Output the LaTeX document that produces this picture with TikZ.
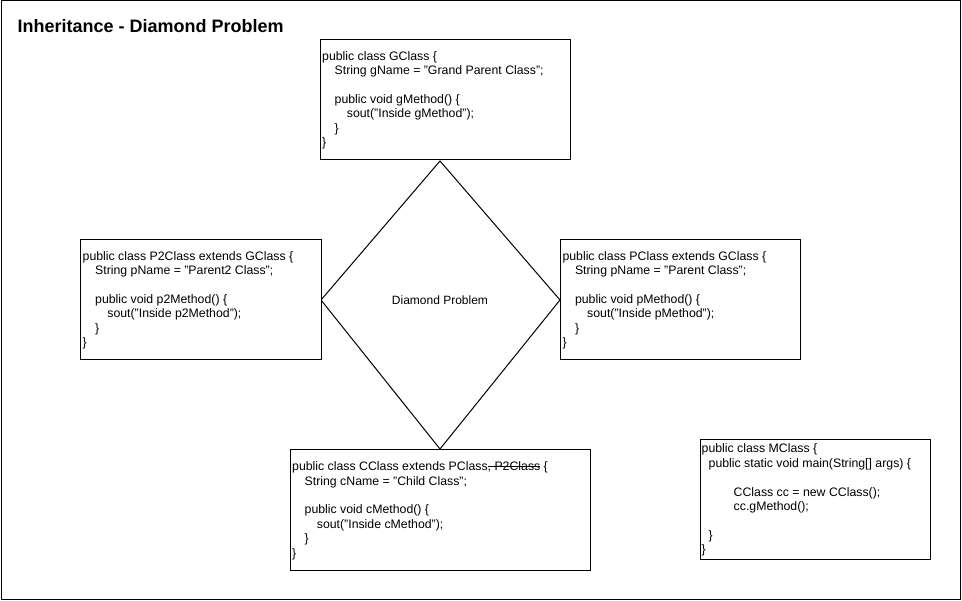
\documentclass[tikz,border=0pt]{standalone}
\usepackage{fontspec}
\setmainfont{Liberation Sans}
\newcommand{\ia}{\hspace*{12.5pt}}
\newcommand{\ib}{\hspace*{24.7pt}}
\newcommand{\strk}[1]{\setbox0\hbox{#1}\rlap{\rule[3.4pt]{\wd0}{0.8pt}}\box0}
\begin{document}
\begin{tikzpicture}[x=1pt,y=-1pt,
  classbox/.style={draw=black, line width=1pt, fill=white, inner sep=0pt},
  codetext/.style={anchor=north west, inner sep=0pt, align=left,
    font=\fontsize{12.3}{14.4}\selectfont},
  frameline/.style={draw=black, line width=1pt}]
\useasboundingbox (0,0) rectangle (962,601);
\draw[frameline] (1,1) rectangle (960.5,599.5);

\node[anchor=base west, inner sep=0pt, font=\bfseries\fontsize{18}{21.6}\selectfont] (title) at (17.3,32.3) {Inheritance - Diamond Problem};

% diamond
\coordinate (dt) at (440,161);
\coordinate (dr) at (560,300);
\coordinate (db) at (440,449);
\coordinate (dl) at (321,300);
\draw[frameline] (dt) -- (dr) -- (db) -- (dl) -- cycle;
\node[inner sep=0pt, font=\fontsize{12}{14.4}\selectfont] (dtext) at (440,300) {Diamond Problem};

% boxes
\node[classbox, minimum width=250pt, minimum height=120pt] (g) at (445,100) {};
\node[classbox, minimum width=241pt, minimum height=120pt] (p2) at (200.5,300) {};
\node[classbox, minimum width=240pt, minimum height=120pt] (p) at (680,300) {};
\node[classbox, minimum width=300pt, minimum height=121pt] (c) at (440,510.5) {};
\node[classbox, minimum width=230pt, minimum height=120pt] (m) at (815,500) {};

\node[codetext] (gt) at (322,49.9) {\strut public class GClass \{\\
\ia String gName = "Grand Parent Class";\\[14.4pt]
\ia public void gMethod() \{\\
\ib sout("Inside gMethod");\\
\ia \}\\
\}};

\node[codetext] (p2t) at (82.5,249.9) {\strut public class P2Class extends GClass \{\\
\ia String pName = "Parent2 Class";\\[14.4pt]
\ia public void p2Method() \{\\
\ib sout("Inside p2Method");\\
\ia \}\\
\}};

\node[codetext] (pt) at (562.3,249.9) {\strut public class PClass extends GClass \{\\
\ia String pName = "Parent Class";\\[14.4pt]
\ia public void pMethod() \{\\
\ib sout("Inside pMethod");\\
\ia \}\\
\}};

\node[codetext] (ct) at (292,460.4) {\strut public class CClass extends PClass\strk{, P2Class}\ \{\\
\ia String cName = "Child Class";\\[14.4pt]
\ia public void cMethod() \{\\
\ib sout("Inside cMethod");\\
\ia \}\\
\}};

\node[codetext] (mt) at (701.5,442.7) {\strut public class MClass \{\\
\hspace*{7pt}public static void main(String[] args) \{\\[14.4pt]
\hspace*{32pt}CClass cc = new CClass();\\
\hspace*{32pt}cc.gMethod();\\[14.4pt]
\hspace*{7pt}\}\\
\}};
\end{tikzpicture}
\end{document}
